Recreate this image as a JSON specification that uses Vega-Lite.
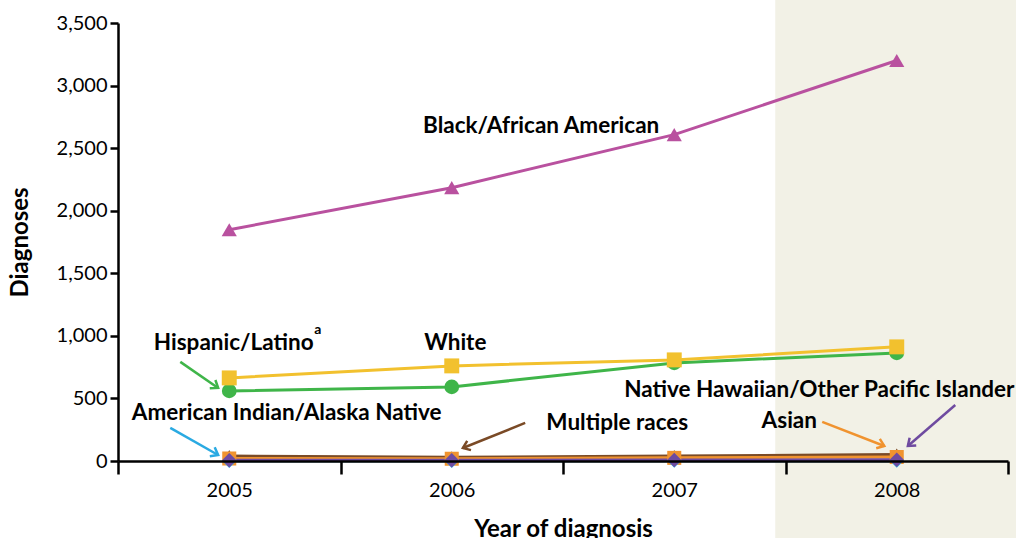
{
  "$schema": "https://vega.github.io/schema/vega-lite/v6.json",
  "width": 890,
  "height": 438,
  "autosize": {"type": "none"},
  "padding": {"left": 118, "top": 23, "right": 8, "bottom": 77},
  "background": "white",
  "config": {
    "view": {"stroke": null},
    "font": "Lato",
    "axis": {"grid": false, "domainColor": "black", "domainWidth": 2.5, "tickColor": "black", "tickWidth": 2.5, "labelFont": "Lato", "labelFontSize": 20, "labelColor": "black", "titleFont": "Lato", "titleFontSize": 24, "titleFontWeight": "bold", "titleColor": "black", "zindex": 1}
  },
  "datasets": {
    "series": [
      {"year": 2005, "group": "Multiple races", "value": 40},
      {"year": 2006, "group": "Multiple races", "value": 30},
      {"year": 2007, "group": "Multiple races", "value": 40},
      {"year": 2008, "group": "Multiple races", "value": 52},
      {"year": 2005, "group": "Asian", "value": 20},
      {"year": 2006, "group": "Asian", "value": 18},
      {"year": 2007, "group": "Asian", "value": 25},
      {"year": 2008, "group": "Asian", "value": 32},
      {"year": 2005, "group": "American Indian/Alaska Native", "value": 2},
      {"year": 2006, "group": "American Indian/Alaska Native", "value": 2},
      {"year": 2007, "group": "American Indian/Alaska Native", "value": 3},
      {"year": 2008, "group": "American Indian/Alaska Native", "value": 3},
      {"year": 2005, "group": "Native Hawaiian/Other Pacific Islander", "value": 6},
      {"year": 2006, "group": "Native Hawaiian/Other Pacific Islander", "value": 6},
      {"year": 2007, "group": "Native Hawaiian/Other Pacific Islander", "value": 8},
      {"year": 2008, "group": "Native Hawaiian/Other Pacific Islander", "value": 10},
      {"year": 2005, "group": "Hispanic/Latino", "value": 560},
      {"year": 2006, "group": "Hispanic/Latino", "value": 592},
      {"year": 2007, "group": "Hispanic/Latino", "value": 784},
      {"year": 2008, "group": "Hispanic/Latino", "value": 864},
      {"year": 2005, "group": "White", "value": 664},
      {"year": 2006, "group": "White", "value": 760},
      {"year": 2007, "group": "White", "value": 808},
      {"year": 2008, "group": "White", "value": 912},
      {"year": 2005, "group": "Black/African American", "value": 1848},
      {"year": 2006, "group": "Black/African American", "value": 2184},
      {"year": 2007, "group": "Black/African American", "value": 2608},
      {"year": 2008, "group": "Black/African American", "value": 3200}
    ],
    "arrows": [
      {"group": "Hispanic/Latino", "x": 2004.78, "y": 792, "x2": 2004.95, "y2": 584, "angle": 34},
      {"group": "American Indian/Alaska Native", "x": 2004.735, "y": 264, "x2": 2004.95, "y2": 48, "angle": 29},
      {"group": "Multiple races", "x": 2006.33, "y": 304, "x2": 2006.05, "y2": 104, "angle": 158},
      {"group": "Asian", "x": 2007.665, "y": 312, "x2": 2007.944, "y2": 120, "angle": 21},
      {"group": "Native Hawaiian/Other Pacific Islander", "x": 2008.263, "y": 448, "x2": 2008.05, "y2": 120, "angle": 139}
    ],
    "labels": [
      {"label": "Black/African American", "x": 2006.402, "y": 2680, "size": 22.5},
      {"label": "Hispanic/Latino", "x": 2005.02, "y": 944, "size": 22.5},
      {"label": "a", "x": 2005.398, "y": 1045, "size": 14},
      {"label": "White", "x": 2006.016, "y": 944, "size": 22.5},
      {"label": "American Indian/Alaska Native", "x": 2005.258, "y": 384, "size": 22.5},
      {"label": "Multiple races", "x": 2006.744, "y": 304, "size": 22.5},
      {"label": "Native Hawaiian/Other Pacific Islander", "x": 2007.652, "y": 568, "size": 22.5},
      {"label": "Asian", "x": 2007.517, "y": 320, "size": 22.5}
    ]
  },
  "layer": [
    {
      "data": {"values": [{"x": 2007.454, "x2": 2008.6, "y": 3750, "y2": -700}]},
      "mark": {"type": "rect", "color": "#f2f1e6", "clip": false},
      "encoding": {
        "x": {"field": "x", "type": "quantitative", "scale": {"domain": [2004.5, 2008.5], "nice": false, "zero": false},
          "axis": {"zindex": 1, "values": [2004.5, 2005, 2005.5, 2006, 2006.5, 2007, 2007.5, 2008, 2008.5], "tickSize": 13,
            "tickOpacity": {"condition": {"test": "datum.value % 1 == 0", "value": 0}, "value": 1},
            "labelExpr": "datum.value % 1 == 0 ? format(datum.value, 'd') : ''", "labelPadding": 6, "labelOverlap": false, "title": "Year of diagnosis", "titlePadding": 17}},
        "x2": {"field": "x2"},
        "y": {"field": "y", "type": "quantitative", "scale": {"domain": [0, 3500], "nice": false},
          "axis": {"zindex": 1, "values": [0, 500, 1000, 1500, 2000, 2500, 3000, 3500], "format": ",.0f", "tickSize": 8, "labelPadding": 3, "title": "Diagnoses", "titlePadding": 24}},
        "y2": {"field": "y2"}
      }
    },
    {
      "data": {"name": "series"},
      "mark": {"type": "line", "strokeWidth": 3},
      "encoding": {
        "x": {"field": "year", "type": "quantitative"},
        "y": {"field": "value", "type": "quantitative"},
        "color": {"field": "group", "type": "nominal", "legend": null,
          "scale": {"domain": ["Black/African American", "White", "Hispanic/Latino", "American Indian/Alaska Native", "Native Hawaiian/Other Pacific Islander", "Asian", "Multiple races"],
            "range": ["#b9519f", "#f2c12e", "#3fb549", "#2aaae2", "#6f4ba0", "#f0932f", "#7a4a26"]}},
        "strokeWidth": {"field": "group", "type": "nominal", "legend": null,
          "scale": {"domain": ["Black/African American", "White", "Hispanic/Latino", "American Indian/Alaska Native", "Native Hawaiian/Other Pacific Islander", "Asian", "Multiple races"],
            "range": [3.5, 3.5, 3.5, 3, 3, 2, 2]}}
      }
    },
    {
      "data": {"name": "series"},
      "mark": {"type": "point", "filled": true, "opacity": 1},
      "encoding": {
        "x": {"field": "year", "type": "quantitative"},
        "y": {"field": "value", "type": "quantitative"},
        "color": {"field": "group", "type": "nominal", "legend": null},
        "shape": {"field": "group", "type": "nominal", "legend": null,
          "scale": {"domain": ["Black/African American", "White", "Hispanic/Latino", "American Indian/Alaska Native", "Native Hawaiian/Other Pacific Islander", "Asian", "Multiple races"],
            "range": ["triangle-up", "square", "circle", "diamond", "diamond", "square", "triangle-up"]}},
        "size": {"field": "group", "type": "nominal", "legend": null,
          "scale": {"domain": ["Black/African American", "White", "Hispanic/Latino", "American Indian/Alaska Native", "Native Hawaiian/Other Pacific Islander", "Asian", "Multiple races"],
            "range": [230, 190, 160, 170, 130, 110, 50]}}
      }
    },
    {
      "data": {"name": "arrows"},
      "mark": {"type": "rule", "strokeWidth": 2.5},
      "encoding": {
        "x": {"field": "x", "type": "quantitative"},
        "y": {"field": "y", "type": "quantitative"},
        "x2": {"field": "x2"},
        "y2": {"field": "y2"},
        "color": {"field": "group", "type": "nominal", "legend": null}
      }
    },
    {
      "data": {"name": "arrows"},
      "mark": {"type": "point", "filled": false, "shape": "M-1,-0.75L0,0L-1,0.75", "strokeWidth": 2.5, "size": 180, "opacity": 1},
      "encoding": {
        "x": {"field": "x2", "type": "quantitative"},
        "y": {"field": "y2", "type": "quantitative"},
        "angle": {"field": "angle", "type": "quantitative", "scale": {"domain": [0, 360], "range": [0, 360]}},
        "color": {"field": "group", "type": "nominal", "legend": null}
      }
    },
    {
      "data": {"name": "labels"},
      "mark": {"type": "text", "fontWeight": "bold", "font": "Lato", "align": "center", "baseline": "middle", "color": "black"},
      "encoding": {
        "x": {"field": "x", "type": "quantitative"},
        "y": {"field": "y", "type": "quantitative"},
        "text": {"field": "label"},
        "size": {"field": "size", "type": "quantitative", "scale": null}
      }
    }
  ]
}
